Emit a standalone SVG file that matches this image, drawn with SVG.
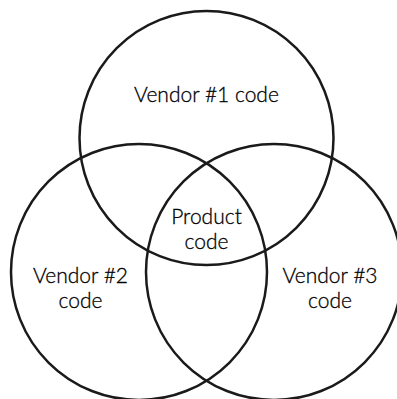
<svg xmlns="http://www.w3.org/2000/svg" width="397" height="399" viewBox="0 0 397 399">
<style>
.c{fill:none;stroke:#1a1a1a;stroke-width:2.5}
.t{font-family:Lato,"Open Sans","Liberation Sans",sans-serif;font-size:21px;font-weight:300;fill:#000;stroke:#000;stroke-width:0.3;text-anchor:middle}
</style>
<rect width="397" height="399" fill="#fff"/>
<g id="vendor1"><circle class="c" cx="206.5" cy="138" r="127"/><text class="t" x="206.5" y="102">Vendor #1 code</text></g>
<g id="vendor2"><circle class="c" cx="139" cy="272" r="128"/><text class="t" x="80.5" y="283">Vendor #2</text><text class="t" x="80.5" y="308">code</text></g>
<g id="vendor3"><circle class="c" cx="274" cy="272" r="128"/><text class="t" x="330" y="283">Vendor #3</text><text class="t" x="330" y="308">code</text></g>
<g id="product"><text class="t" x="206.5" y="224">Product</text><text class="t" x="206.5" y="249">code</text></g>
<g id="connectors"></g>
</svg>
